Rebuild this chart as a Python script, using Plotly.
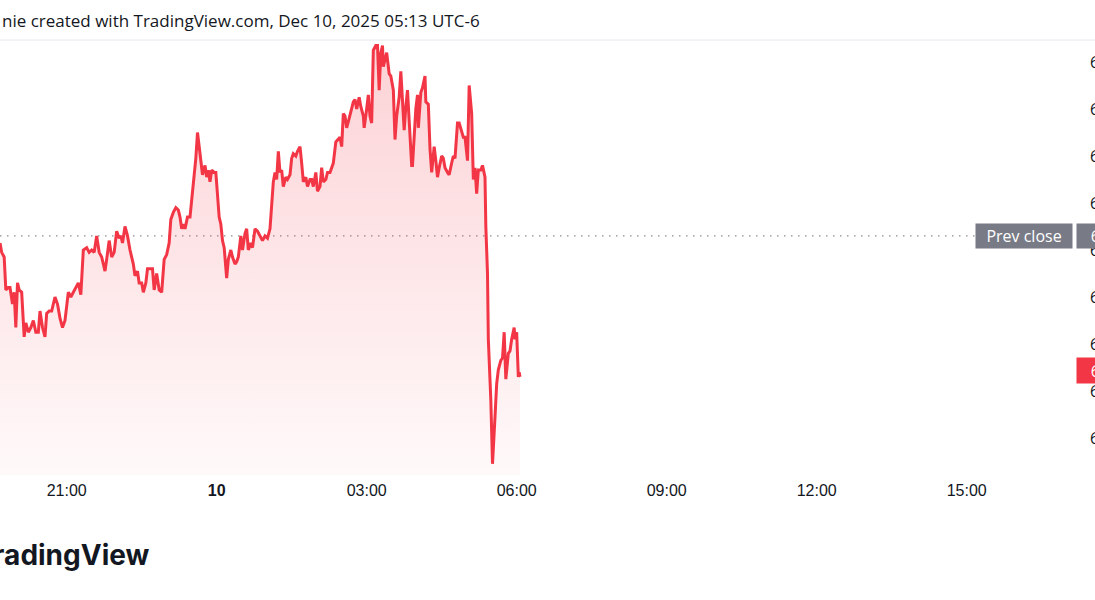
import pandas as pd
import plotly.graph_objects as go

# ---- data ----
session_start = "2025-12-09 19:40"
minutes_from_start = [
    0, 2, 5, 7, 10, 12, 15, 17, 19, 21,
    23, 26, 29, 31, 34, 37, 40, 43, 46, 48,
    51, 54, 56, 59, 62, 66, 69, 72, 75, 78,
    82, 85, 88, 91, 94, 97, 100, 104, 107, 110,
    113, 116, 119, 122, 126, 128, 131, 134, 137, 140,
    143, 145, 147, 150, 153, 156,
    160, 162, 165, 167, 170, 172, 175, 177, 180, 183,
    185, 188, 191, 194, 197, 200, 203, 205, 208, 211,
    214, 216, 218, 220, 222, 225, 228, 230, 233, 235,
    237, 239, 241, 243, 246, 248, 250, 252, 254, 257,
    259, 261, 263, 265, 267, 269, 272, 274, 277, 279,
    282, 284, 286, 289, 291, 294, 296, 298, 301, 303,
    306, 309, 312, 315, 318, 321, 324, 326, 328, 330,
    332, 334, 336, 338, 340, 343, 345, 348, 350, 352,
    355, 357, 360, 362, 364, 367, 369, 372, 374, 376,
    379, 381, 384, 386, 388, 391, 393, 396, 398, 400,
    403, 405, 408, 410, 412, 414, 416, 419, 421, 424,
    426, 428, 431, 433, 436, 437, 440, 442, 444, 446,
    448, 451, 453, 455, 457, 459, 460, 462, 464, 467,
    469, 472, 474, 476, 479, 481, 485, 487, 489, 491,
    494, 495, 497, 499, 501, 502, 505, 507, 510, 511,
    514, 516, 518, 521, 523, 525, 527, 530, 532, 534,
    537, 539, 542, 544, 546, 549, 551, 554, 556, 558,
    561, 563, 566, 568, 570, 572, 574, 577, 579, 582,
    583, 585, 586, 589, 591, 594, 596, 598, 601, 603,
    605, 607, 610, 612, 614, 617, 618, 620, 622, 623, 624,
]
prices = [
    6860.75, 6859.75, 6859.25, 6855.75, 6856.0, 6856.0, 6854.25, 6855.5, 6851.75, 6856.5,
    6855.75, 6855.5, 6850.75, 6852.25, 6851.25, 6851.75, 6852.5, 6851.25, 6851.25, 6853.5,
    6851.75, 6850.75, 6853.25, 6853.5, 6853.5, 6855.0, 6854.25, 6852.75, 6851.75, 6852.5,
    6855.5, 6855.0, 6855.5, 6856.0, 6856.5, 6855.25, 6860.0, 6860.25, 6859.75, 6860.0,
    6859.75, 6861.5, 6859.75, 6859.25, 6857.75, 6859.0, 6861.0, 6859.25, 6859.75, 6862.0,
    6861.25, 6861.5, 6860.75, 6862.5, 6861.5, 6860.0,
    6858.5, 6857.25, 6857.75, 6856.5, 6856.5, 6855.5, 6856.5, 6858.0, 6858.0, 6858.0,
    6855.75, 6857.5, 6855.75, 6855.5, 6859.0, 6859.5, 6860.75, 6863.25, 6864.0, 6864.5,
    6864.25, 6863.5, 6862.25, 6862.75, 6862.25, 6863.5, 6863.5, 6865.25, 6867.75, 6869.75,
    6872.5, 6871.0, 6869.5, 6868.0, 6869.0, 6867.75, 6868.5, 6867.25, 6868.5, 6868.25,
    6868.25, 6866.0, 6863.5, 6862.75, 6861.0, 6860.25, 6857.0, 6859.0, 6860.0, 6859.25,
    6858.5, 6858.75, 6859.25, 6861.5, 6860.0, 6861.75, 6862.25, 6860.0, 6860.75, 6860.25,
    6862.25, 6862.0, 6861.5, 6861.0, 6861.5, 6861.25, 6862.25, 6865.25, 6867.25, 6868.25,
    6867.5, 6870.5, 6868.25, 6868.5, 6866.75, 6867.75, 6867.5, 6868.0, 6869.75, 6870.25,
    6870.0, 6870.5, 6871.0, 6869.25, 6867.25, 6867.75, 6866.75, 6867.5, 6867.5, 6866.75,
    6868.25, 6866.25, 6866.75, 6868.75, 6867.25, 6867.5, 6868.25, 6868.25, 6868.75, 6869.25,
    6871.5, 6871.75, 6872.0, 6871.0, 6874.5, 6874.25, 6873.0, 6874.0, 6874.75, 6875.75,
    6876.0, 6875.0, 6876.25, 6875.25, 6874.25, 6873.0, 6875.0, 6876.5, 6874.25, 6873.5,
    6881.25, 6881.75, 6881.75, 6877.0, 6881.0, 6881.75, 6879.5, 6880.25, 6881.0, 6878.75,
    6878.5, 6877.0, 6871.75, 6874.25, 6876.25, 6879.0, 6872.75, 6875.25, 6877.0, 6873.75,
    6869.0, 6869.0, 6872.75, 6875.0, 6876.5, 6873.0, 6876.75, 6877.25, 6878.5, 6875.75,
    6875.5, 6870.75, 6868.25, 6871.0, 6869.5, 6867.75, 6868.75, 6870.0, 6869.75, 6868.75,
    6868.25, 6868.0, 6869.25, 6870.0, 6869.75, 6873.5, 6873.5, 6872.5, 6872.0, 6872.0,
    6869.5, 6877.5, 6874.5, 6867.5, 6868.75, 6866.0, 6868.5, 6868.5, 6869.0, 6867.75,
    6862.5, 6857.5, 6850.5, 6844.0, 6837.25, 6842.25, 6845.75, 6847.25, 6848.25, 6848.5,
    6851.25, 6846.25, 6849.0, 6849.25, 6850.5, 6851.75, 6850.5, 6851.25, 6846.5, 6847.0, 6846.5,
]
prev_close = 6861.5

x_tick_times = ["2025-12-09 21:00", "2025-12-10 00:00", "2025-12-10 03:00", "2025-12-10 06:00",
                "2025-12-10 09:00", "2025-12-10 12:00", "2025-12-10 15:00"]
x_tick_labels = ["21:00", "<b>10</b>", "03:00", "06:00", "09:00", "12:00", "15:00"]
y_tick_values = [6840, 6845, 6850, 6855, 6860, 6865, 6870, 6875, 6880]
y_tick_labels = ["6,840.00", "6,845.00", "6,850.00", "6,855.00", "6,860.00",
                 "6,865.00", "6,870.00", "6,875.00", "6,880.00"]
x_range = ["2025-12-09 19:40", "2025-12-10 17:10"]
y_range = [6836.06, 6882.34]

title_text = "nie created with TradingView.com, Dec 10, 2025 05:13 UTC-6"

# ---- build ----
n = min(len(minutes_from_start), len(prices))
times = pd.Timestamp(session_start) + pd.to_timedelta(minutes_from_start[:n], unit="min")
vals = prices[:n]

RED = "#F23645"
GREY = "#787B86"
TEXT = "#131722"
FONT = "Liberation Sans"
LFONT = "Open Sans"

fig = go.Figure()
fig.add_trace(go.Scatter(
    x=times, y=vals, mode="lines",
    line=dict(color=RED, width=3),
    fill="tozeroy",
    fillgradient=dict(
        type="vertical",
        colorscale=[[0, "rgba(242,54,69,0.03)"], [1, "rgba(242,54,69,0.22)"]],
        start=y_range[0], stop=max(vals),
    ),
    hoverinfo="skip", showlegend=False,
))

W, H = 1095, 600
ml, mr, mt, mb = 0, 20, 40, 125
pw = W - ml - mr
ph = H - mt - mb

fig.update_layout(
    width=W, height=H,
    margin=dict(l=ml, r=mr, t=mt, b=mb, pad=0),
    paper_bgcolor="white", plot_bgcolor="white",
    font=dict(family=FONT, color=TEXT),
    xaxis=dict(
        type="date", range=x_range, tickvals=x_tick_times, ticktext=x_tick_labels,
        showgrid=False, zeroline=False, showline=False, ticks="",
        ticklabelstandoff=4,
        tickfont=dict(size=16, color=TEXT, family=FONT), automargin=False,
    ),
    yaxis=dict(
        side="right", range=y_range, tickvals=y_tick_values, ticktext=y_tick_labels,
        showgrid=False, zeroline=False, showline=False, ticks="",
        ticklabelstandoff=14,
        tickfont=dict(size=16, color=TEXT, family=LFONT), automargin=False,
    ),
    shapes=[
        dict(type="line", xref="paper", yref="paper", x0=0, x1=1.05, y0=1.0, y1=1.0,
             line=dict(color="#E6E8EE", width=1), layer="above"),
        dict(type="line", xref="paper", yref="y", x0=0, x1=977 / pw,
             y0=prev_close, y1=prev_close,
             line=dict(color="#8A8D96", width=1.3, dash="1.5px,5.5px"), layer="below"),
    ],
    annotations=[
        dict(text=title_text, xref="paper", yref="paper", x=0, y=1 + 19 / ph,
             xanchor="left", yanchor="middle", showarrow=False,
             font=dict(size=17, color=TEXT, family=LFONT)),
        dict(text="Prev close", xref="paper", yref="y", x=1073 / pw, y=prev_close,
             xanchor="right", yanchor="middle", showarrow=False, width=90, height=18,
             bgcolor=GREY, borderpad=3, font=dict(size=16, color="white", family=LFONT)),
        dict(text=f"{prev_close:,.2f}", xref="paper", yref="y", x=1, xshift=1, y=prev_close,
             xanchor="left", yanchor="middle", showarrow=False, height=18, width=74,
             align="right",
             bgcolor=GREY, borderpad=3, font=dict(size=16, color="white", family=LFONT)),
        dict(text=f"{vals[-1]:,.2f}", xref="paper", yref="y", x=1, xshift=1, y=vals[-1],
             yshift=6, xanchor="left", yanchor="middle", showarrow=False, height=19, width=74,
             align="right",
             bgcolor=RED, borderpad=3, font=dict(size=16, color="white", family=LFONT)),
        dict(text="<b>TradingView</b>", xref="paper", yref="paper", x=152 / pw,
             y=(475 - 555) / ph, xanchor="right", yanchor="middle",
             showarrow=False, font=dict(size=28, color=TEXT, family="Inter")),
    ],
)

fig.write_html("out.html", config={"displayModeBar": False},
               post_script="document.body.style.margin='0';")
